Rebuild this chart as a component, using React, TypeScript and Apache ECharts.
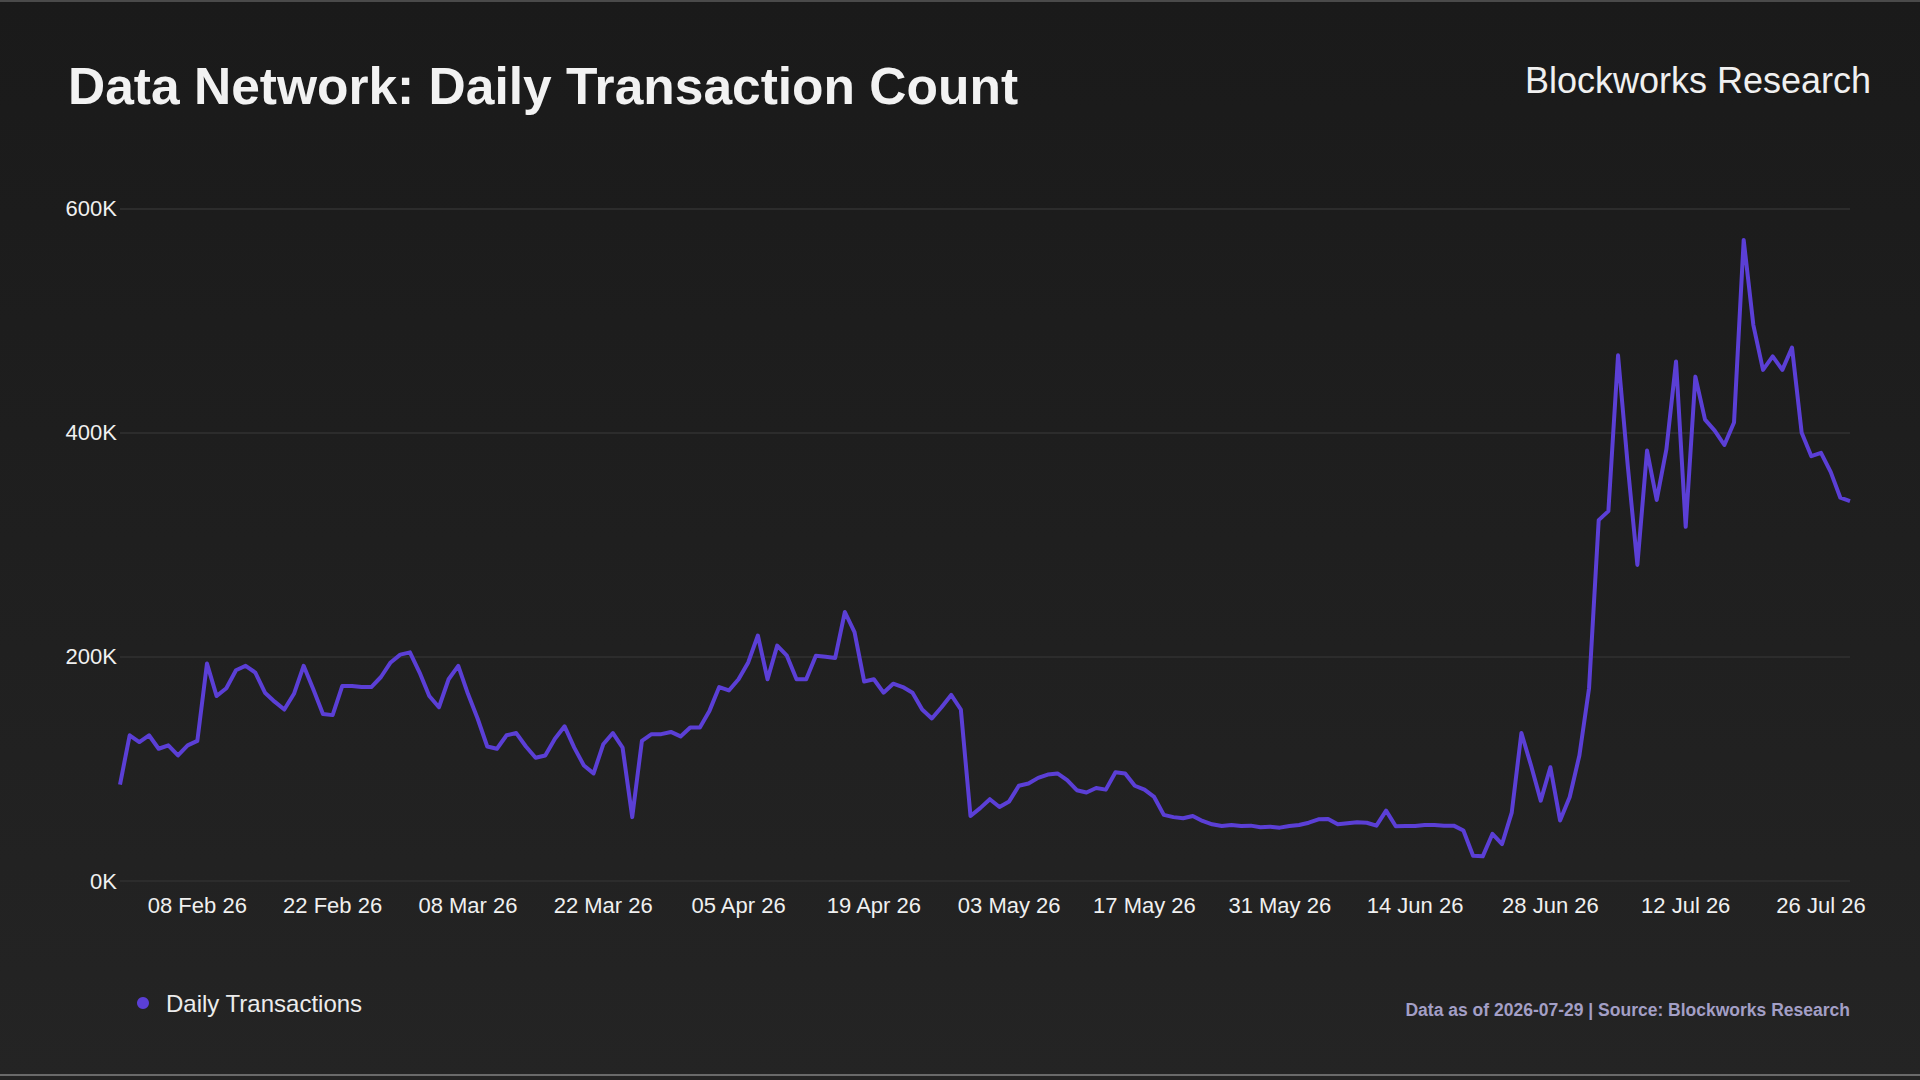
import React, { useEffect, useRef } from "react";
import * as echarts from "echarts";

// Daily transactions (thousands), one value per day starting 31 Jan 2026
const START_DATE = "2026-01-31";
const DAILY_TX_K = [
  86, 130, 124, 130, 118, 121, 112, 121, 125, 194,
  165, 172, 188, 192, 186, 168, 160, 153, 167, 192,
  171, 149, 148, 174, 174, 173, 173, 182, 195, 202,
  204, 186, 165, 155, 180, 192, 167, 145, 120, 118,
  130, 132, 120, 110, 112, 127, 138, 119, 103, 96,
  122, 132, 119, 57, 125, 131, 131, 133, 129, 137,
  137, 152, 173, 170, 180, 195, 219, 180, 210, 201,
  180, 180, 201, 200, 199, 240, 222, 178, 180, 168,
  176, 173, 168, 153, 145, 155, 166, 153, 58, 65,
  73, 66, 71, 85, 87, 92, 95, 96, 90, 81,
  79, 83, 81.5, 97, 96, 85, 81.5, 75, 59, 57,
  56, 58, 53.6, 50.6, 49, 50, 49, 49.4, 48, 48.5,
  47.6, 49, 50, 52, 55, 55.4, 50.6, 51.5, 52.5, 52,
  49.4, 62.8, 48.8, 49, 49, 50, 50, 49.4, 49.4, 45,
  22.6, 22, 42, 33, 61, 132, 103, 71.7, 101.5, 54,
  75, 112, 172, 322, 330, 469, 371, 282, 384, 340,
  385, 463.5, 316, 450, 411.6, 401.8, 389, 409, 572, 496,
  456, 468, 456, 476, 400, 379, 382, 365, 342, 339,
];
const Y_TICKS_K = [0, 200, 400, 600];
const MONTHS = ["Jan", "Feb", "Mar", "Apr", "May", "Jun", "Jul", "Aug", "Sep", "Oct", "Nov", "Dec"];
const SERIES_NAME = "Daily Transactions";
const TITLE = "Data Network: Daily Transaction Count";
const BRAND = "Blockworks Research";
const FOOTER = "Data as of 2026-07-29 | Source: Blockworks Research";

const FONT = "'Liberation Sans', Arial, Helvetica, sans-serif";

function buildDates(): string[] {
  const start = new Date(START_DATE + "T00:00:00Z").getTime();
  return DAILY_TX_K.map((_, i) => {
    const d = new Date(start + i * 86400000);
    const dd = String(d.getUTCDate()).padStart(2, "0");
    const yy = String(d.getUTCFullYear()).slice(2);
    return `${dd} ${MONTHS[d.getUTCMonth()]} ${yy}`;
  });
}

export default function App() {
  const ref = useRef<HTMLDivElement>(null);

  useEffect(() => {
    document.body.style.margin = "0";
    if (!ref.current) return;
    const chart = echarts.init(ref.current, undefined, { renderer: "svg" });
    const dates = buildDates();

    chart.setOption({
      animation: false,
      backgroundColor: {
        type: "linear",
        x: 0,
        y: 0,
        x2: 0,
        y2: 1,
        colorStops: [
          { offset: 0, color: "#1a1a1a" },
          { offset: 1, color: "#242424" },
        ],
      },
      title: {
        text: TITLE,
        left: 68,
        top: 60,
        padding: 0,
        textStyle: {
          color: "#f2f2f2",
          fontFamily: FONT,
          fontWeight: "bold",
          fontSize: 51.5,
          lineHeight: 52,
        },
      },
      legend: {
        data: [SERIES_NAME],
        icon: "circle",
        itemWidth: 36,
        itemHeight: 12,
        left: 137,
        top: 991,
        padding: 0,
        textStyle: {
          color: "#ececec",
          fontFamily: FONT,
          fontSize: 24,
          lineHeight: 24,
        },
      },
      grid: {
        left: 120,
        right: 70,
        top: 208.5,
        bottom: 199,
        containLabel: false,
      },
      xAxis: {
        type: "category",
        data: dates,
        boundaryGap: false,
        axisLine: { show: false },
        axisTick: { show: false },
        splitLine: { show: false },
        axisLabel: {
          interval: (index: number) => index % 14 === 8,
          color: "#f0f0f0",
          fontFamily: FONT,
          fontSize: 22,
          lineHeight: 22,
          margin: 13,
        },
      },
      yAxis: {
        type: "value",
        min: Y_TICKS_K[0],
        max: Y_TICKS_K[Y_TICKS_K.length - 1],
        interval: Y_TICKS_K[1] - Y_TICKS_K[0],
        axisLine: { show: false },
        axisTick: { show: false },
        splitLine: { show: true, lineStyle: { color: "#2c2c2c", width: 2 } },
        axisLabel: {
          formatter: (v: number) => `${v}K`,
          color: "#f0f0f0",
          fontFamily: FONT,
          fontSize: 22,
          margin: 3,
        },
      },
      series: [
        {
          name: SERIES_NAME,
          type: "line",
          data: DAILY_TX_K,
          showSymbol: false,
          symbol: "none",
          smooth: false,
          lineStyle: { color: "#5b3fd6", width: 4, join: "round" },
          itemStyle: { color: "#5b3fd6" },
        },
      ],
      graphic: [
        {
          type: "text",
          right: 49,
          top: 62,
          style: {
            text: BRAND,
            fill: "#f0f0f0",
            font: `36px ${FONT}`,
          },
        },
        {
          type: "text",
          right: 70,
          top: 1001,
          style: {
            text: FOOTER,
            fill: "#a39fc6",
            font: `bold 17.5px ${FONT}`,
          },
        },
        {
          type: "rect",
          left: 0,
          top: 0,
          shape: { width: 1920, height: 2 },
          style: { fill: "#4a4a4a" },
        },
        {
          type: "rect",
          left: 0,
          top: 1074,
          shape: { width: 1920, height: 2 },
          style: { fill: "#6a6a6a" },
        },
      ],
    });

    return () => chart.dispose();
  }, []);

  return <div ref={ref} style={{ width: 1920, height: 1080 }} />;
}
